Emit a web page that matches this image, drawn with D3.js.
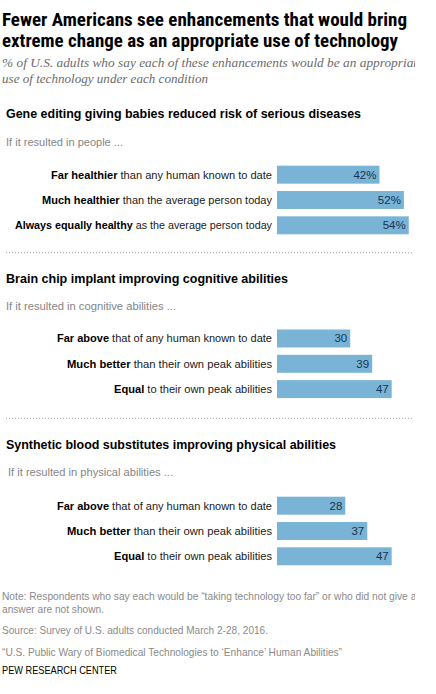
<!DOCTYPE html>
<html><head><meta charset="utf-8">
<script src="https://cdn.jsdelivr.net/npm/d3@7"></script>
<style>body{margin:0;background:#fff}svg{display:block}</style>
</head><body>
<script>
// ---- data ----
const titleLines = ["Fewer Americans see enhancements that would bring", "extreme change as an appropriate use of technology"];
const subtitleLines = ["% of U.S. adults who say each of these enhancements would be an appropriate", "use of technology under each condition"];
const sectionTitles = ["Gene editing giving babies reduced risk of serious diseases", "Brain chip implant improving cognitive abilities", "Synthetic blood substitutes improving physical abilities"];
const sectionLeads = ["If it resulted in people ...", "If it resulted in cognitive abilities ...", "If it resulted in physical abilities ..."];
const boldParts = [["Far healthier", "Much healthier", "Always equally healthy"], ["Far above", "Much better", "Equal"], ["Far above", "Much better", "Equal"]];
const restParts = [[" than any human known to date", " than the average person today", " as the average person today"], [" that of any human known to date", " than their own peak abilities", " to their own peak abilities"], [" that of any human known to date", " than their own peak abilities", " to their own peak abilities"]];
const values = [[42, 52, 54], [30, 39, 47], [28, 37, 47]];
const valueSuffix = ["%", "", ""];
const footerLines = ["Note: Respondents who say each would be \u201ctaking technology too far\u201d or who did not give an", "answer are not shown.", "Source: Survey of U.S. adults conducted March 2-28, 2016.", "\u201cU.S. Public Wary of Biomedical Technologies to \u2018Enhance\u2019 Human Abilities\u201d"];
const brand = "PEW RESEARCH CENTER";

// ---- layout ----
const W = 436, H = 694;
const sectionTitleY = [118, 283, 449];
const leadY = [146, 310, 476];
const barTopY = [165.7, 329.5, 496.7];
const dividerY = [252.7, 418.3];
const labelRight = 272;

const svg = d3.select("body").append("svg").attr("width", W).attr("height", H);
svg.append("defs").append("clipPath").attr("id", "clip").append("rect").attr("x", 0).attr("y", 0).attr("width", 415).attr("height", H);
const g = svg.append("g").attr("clip-path", "url(#clip)");

const sans = "'Liberation Sans', Arial, sans-serif";
const narrow = "'Liberation Sans Narrow', 'Arial Narrow', 'Roboto Condensed', 'Liberation Sans', Arial, sans-serif";

function fit(sel, w) { sel.attr("textLength", w).attr("lengthAdjust", "spacingAndGlyphs"); return sel; }

// title
const titleW = [405, 396];
titleLines.forEach((t, i) => {
  fit(g.append("text").attr("x", 2).attr("y", 26 + i * 21).attr("font-family", narrow).attr("font-weight", "bold").attr("font-size", 19).attr("fill", "#000").text(t), titleW[i]);
});
// subtitle
const subW = [421, 206];
subtitleLines.forEach((t, i) => {
  fit(g.append("text").attr("x", 2).attr("y", 67 + i * 15.5).attr("font-family", "'Liberation Serif', 'Times New Roman', serif").attr("font-style", "italic").attr("font-size", 13).attr("fill", "#6b6b6b").text(t), subW[i]);
});

const x = d3.scaleLinear().domain([0, 100]).range([277, 521]);
const y = d3.scaleBand().domain([0, 1, 2]).range([0, 68.6]).paddingInner(0.29).paddingOuter(0);

const secTitleW = [355, 282, 330];
const leadW = [117, 170, 165];
const labelW = [[221, 230, 257], [215, 205, 158], [215, 205, 158]];

sectionTitles.forEach((t, s) => {
  fit(g.append("text").attr("x", 6).attr("y", sectionTitleY[s]).attr("font-family", sans).attr("font-weight", "bold").attr("font-size", 13).attr("fill", "#000").text(t), secTitleW[s]);
  fit(g.append("text").attr("x", s === 2 ? 8 : 6).attr("y", leadY[s]).attr("font-family", sans).attr("font-size", 11).attr("fill", "#858585").text(sectionLeads[s]), leadW[s]);

  const sg = g.append("g").attr("transform", `translate(0,${barTopY[s]})`);
  const rows = sg.selectAll("g.row").data(values[s]).join("g").attr("class", "row");
  rows.append("rect")
    .attr("x", x(0)).attr("y", (d, i) => y(i))
    .attr("width", d => x(d) - x(0)).attr("height", y.bandwidth())
    .attr("fill", "#79b4d7");
  rows.append("text")
    .attr("x", d => x(d) - 3).attr("y", (d, i) => y(i) + y.bandwidth() / 2 + 4)
    .attr("text-anchor", "end").attr("font-family", sans).attr("font-size", 11.5).attr("fill", "#17324f")
    .text(d => d + valueSuffix[s]);
  const lab = rows.append("text")
    .attr("x", labelRight).attr("y", (d, i) => y(i) + y.bandwidth() / 2 + 4)
    .attr("text-anchor", "end").attr("font-family", sans).attr("font-size", 11).attr("fill", "#1a1a1a")
    .attr("textLength", (d, i) => labelW[s][i]).attr("lengthAdjust", "spacingAndGlyphs");
  lab.append("tspan").attr("font-weight", "bold").attr("fill", "#000").text((d, i) => boldParts[s][i]);
  lab.append("tspan").text((d, i) => restParts[s][i]);
});

dividerY.forEach(yy => {
  g.append("line").attr("x1", 6).attr("x2", 413).attr("y1", yy).attr("y2", yy)
    .attr("stroke", "#a0a0a0").attr("stroke-width", 1).attr("stroke-dasharray", "1,2");
});

// footer
const footY = [600, 613, 634, 656];
const footW = [420, 102, 266, 340];
footerLines.forEach((t, i) => {
  fit(g.append("text").attr("x", 2).attr("y", footY[i]).attr("font-family", sans).attr("font-size", 10.5).attr("fill", "#8a8a8a").text(t), footW[i]);
});
fit(g.append("text").attr("x", 2).attr("y", 674).attr("font-family", sans).attr("font-size", 10.5).attr("fill", "#000").text(brand), 115);
</script>
</body></html>
